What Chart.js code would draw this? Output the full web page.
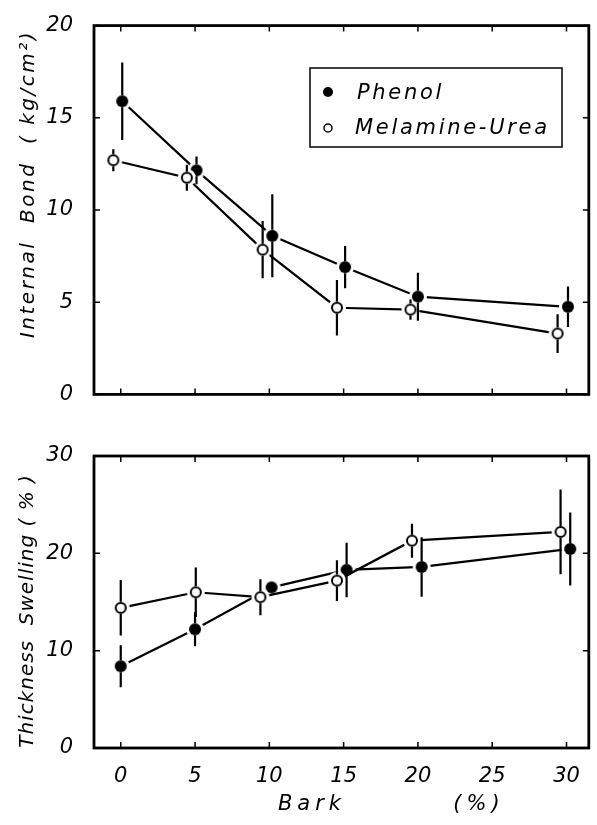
<!DOCTYPE html>
<html>
<head>
<meta charset="utf-8">
<script src="https://cdn.jsdelivr.net/npm/chart.js@4.4.1/dist/chart.umd.min.js"></script>
<style>
  html, body { margin: 0; padding: 0; background: #fff; }
  #wrap { position: relative; width: 597px; height: 825px; }
  canvas { position: absolute; left: 0; }
  #bondChart { top: 0; }
  #swellChart { top: 420px; }
</style>
</head>
<body>
<div id="wrap">
  <canvas id="bondChart" width="597" height="420"></canvas>
  <canvas id="swellChart" width="597" height="405"></canvas>
</div>
<script>
// tick labels
const barkTicks = [0, 5, 10, 15, 20, 25, 30];
const bondTicks = [0, 5, 10, 15, 20];
const swellTicks = [0, 10, 20, 30];

// bark % as plotted (the figure nudges the two series apart a little)
const bondPhenolX = [0.1, 5.1, 10.2, 15.1, 20.0, 30.1];
const bondPhenol = [15.9, 12.15, 8.6, 6.9, 5.3, 4.75];
const bondPhenolErr = [2.1, 0.75, 2.25, 1.15, 1.3, 1.1];
const bondMelX = [-0.5, 4.45, 9.55, 14.55, 19.5, 29.4];
const bondMel = [12.7, 11.75, 7.85, 4.7, 4.6, 3.3];
const bondMelErr = [0.6, 0.7, 1.55, 1.5, 0.55, 1.05];

const swellPhenolX = [0.0, 5.0, 10.15, 15.2, 20.25, 30.25];
const swellPhenol = [8.4, 12.2, 16.5, 18.3, 18.6, 20.45];
const swellPhenolErr = [2.15, 1.75, 0.6, 2.8, 3.05, 3.75];
const swellMelX = [0.0, 5.05, 9.4, 14.55, 19.6, 29.6];
const swellMel = [14.4, 16.0, 15.5, 17.2, 21.3, 22.2];
const swellMelErr = [2.85, 2.55, 1.85, 2.1, 1.75, 4.35];

const FONT = 'DejaVu Sans';

// marker with a white ring so the lines stop short of it
function marker(filled) {
  const r = 6, halo = 3, size = 2 * (r + halo) + 2;
  const c = document.createElement('canvas');
  c.width = size; c.height = size;
  const g = c.getContext('2d');
  const m = size / 2;
  g.fillStyle = '#fff';
  g.beginPath(); g.arc(m, m, r + halo, 0, Math.PI * 2); g.fill();
  g.beginPath();
  if (filled) {
    g.arc(m, m, r, 0, Math.PI * 2);
    g.fillStyle = '#000'; g.fill();
  } else {
    g.arc(m, m, r - 1, 0, Math.PI * 2);
    g.lineWidth = 2; g.strokeStyle = '#000'; g.stroke();
  }
  return c;
}
const dot = marker(true);
const ring = marker(false);

function pts(xs, ys) {
  return xs.map((x, i) => ({ x: x, y: ys[i] }));
}

function series(label, xs, ys, errs, style) {
  return {
    label: label,
    data: pts(xs, ys),
    errors: errs,
    borderColor: '#000',
    borderWidth: 2.2,
    fill: false,
    tension: 0,
    pointStyle: style,
    pointRadius: 6
  };
}

const errorBars = {
  id: 'errorBars',
  afterDatasetsDraw(chart) {
    const ctx = chart.ctx;
    const ys = chart.scales.y;
    ctx.save();
    ctx.strokeStyle = '#000';
    ctx.lineWidth = 2.2;
    chart.data.datasets.forEach((ds, i) => {
      chart.getDatasetMeta(i).data.forEach((pt, j) => {
        const v = ds.data[j].y, e = ds.errors[j], r = 6;
        const top = ys.getPixelForValue(v + e);
        const bot = ys.getPixelForValue(v - e);
        ctx.beginPath();
        if (top < pt.y - r) { ctx.moveTo(pt.x, pt.y - r); ctx.lineTo(pt.x, top); }
        if (bot > pt.y + r) { ctx.moveTo(pt.x, pt.y + r); ctx.lineTo(pt.x, bot); }
        ctx.stroke();
      });
    });
    ctx.restore();
  }
};

// box round the plot and ticks pointing inward
const frame = {
  id: 'frame',
  beforeDatasetsDraw(chart) {
    const ctx = chart.ctx, a = chart.chartArea;
    const x = chart.scales.x, y = chart.scales.y;
    ctx.save();
    ctx.strokeStyle = '#000';
    ctx.lineWidth = 1.5;
    ctx.beginPath();
    x.ticks.forEach(t => {
      const px = x.getPixelForValue(t.value);
      ctx.moveTo(px, a.bottom); ctx.lineTo(px, a.bottom - 6);
      ctx.moveTo(px, a.top); ctx.lineTo(px, a.top + 6);
    });
    y.ticks.forEach(t => {
      const py = y.getPixelForValue(t.value);
      ctx.moveTo(a.left, py); ctx.lineTo(a.left + 6, py);
      ctx.moveTo(a.right, py); ctx.lineTo(a.right - 6, py);
    });
    ctx.stroke();
    ctx.lineWidth = 2.8;
    ctx.strokeRect(a.left, a.top, a.right - a.left, a.bottom - a.top);
    ctx.restore();
  }
};

function sideTitle(ctx, text, cx, cy, spacing) {
  ctx.save();
  ctx.translate(cx, cy);
  ctx.rotate(-Math.PI / 2);
  ctx.font = 'italic 20px "' + FONT + '"';
  ctx.letterSpacing = spacing + 'px';
  ctx.fillStyle = '#000';
  ctx.textAlign = 'center';
  ctx.textBaseline = 'middle';
  ctx.fillText(text, 0, 0);
  ctx.restore();
}

const bondTexts = {
  id: 'bondTexts',
  afterDraw(chart) {
    const ctx = chart.ctx;
    sideTitle(ctx, 'Internal  Bond  ( kg/cm²)', 29, 184, 2.5);
    // legend box
    ctx.save();
    ctx.lineWidth = 1.5;
    ctx.strokeStyle = '#000';
    ctx.strokeRect(310, 68, 252, 79);
    ctx.fillStyle = '#000';
    ctx.beginPath(); ctx.arc(328, 92, 5, 0, Math.PI * 2); ctx.fill();
    ctx.beginPath(); ctx.arc(328, 128, 4, 0, Math.PI * 2); ctx.stroke();
    ctx.font = 'italic 21px "' + FONT + '"';
    ctx.letterSpacing = '2.7px';
    ctx.textBaseline = 'alphabetic';
    ctx.fillText('Phenol', 357, 99);
    ctx.fillText('Melamine-Urea', 355, 134);
    ctx.restore();
  }
};

const swellTexts = {
  id: 'swellTexts',
  afterDraw(chart) {
    const ctx = chart.ctx;
    sideTitle(ctx, 'Thickness  Swelling ( % )', 28, 191, 1);
    ctx.save();
    ctx.font = 'italic 21px "' + FONT + '"';
    ctx.letterSpacing = '5px';
    ctx.fillStyle = '#000';
    ctx.textAlign = 'center';
    ctx.textBaseline = 'middle';
    ctx.fillText('Bark', 312, 385);
    ctx.fillText('(%)', 479, 385);
    ctx.restore();
  }
};

const tickFont = { family: FONT, style: 'italic', size: 21 };

function makeChart(id, yMax, yTicks, datasets, pad, xHeight, showX, extra) {
  return new Chart(document.getElementById(id).getContext('2d'), {
    type: 'line',
    data: { datasets: datasets },
    options: {
      responsive: false,
      animation: false,
      layout: { padding: pad },
      plugins: { legend: { display: false }, tooltip: { enabled: false } },
      scales: {
        x: {
          type: 'linear',
          min: -1.8,
          max: 31.5,
          afterBuildTicks: s => { s.ticks = barkTicks.map(v => ({ value: v })); },
          afterFit: s => { s.height = xHeight; },
          ticks: { display: showX, font: tickFont, color: '#000', padding: 8, maxRotation: 0 },
          grid: { display: false },
          border: { display: false }
        },
        y: {
          min: 0,
          max: yMax,
          afterBuildTicks: s => { s.ticks = yTicks.map(v => ({ value: v })); },
          afterFit: s => { s.width = 94; },
          ticks: { font: tickFont, color: '#000', padding: 13 },
          grid: { display: false },
          border: { display: false }
        }
      }
    },
    plugins: [frame, errorBars, extra]
  });
}

makeChart('bondChart', 20, bondTicks, [
  series('Melamine-Urea', bondMelX, bondMel, bondMelErr, ring),
  series('Phenol', bondPhenolX, bondPhenol, bondPhenolErr, dot)
], { top: 20, right: 1, left: 0, bottom: 0 }, 13, false, bondTexts);

makeChart('swellChart', 30, swellTicks, [
  series('Melamine-Urea', swellMelX, swellMel, swellMelErr, ring),
  series('Phenol', swellPhenolX, swellPhenol, swellPhenolErr, dot)
], { top: 36, right: 1, left: 0, bottom: 0 }, 77, true, swellTexts);
</script>
</body>
</html>
